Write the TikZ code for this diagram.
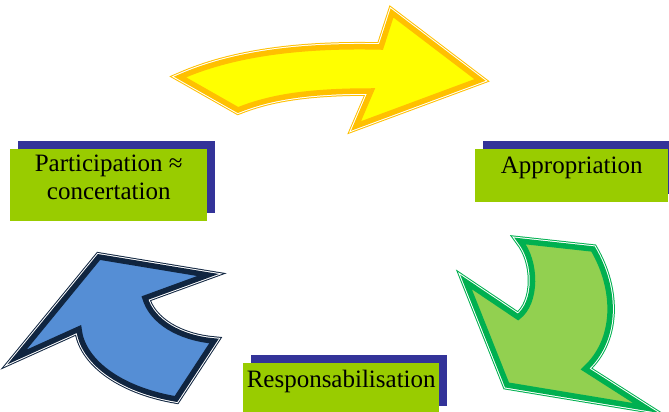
\documentclass[tikz,border=0pt]{standalone}
\definecolor{boxgreen}{RGB}{153,204,0}
\definecolor{shadowblue}{RGB}{51,51,153}
\definecolor{arrowyellow}{RGB}{255,255,0}
\definecolor{edgeorange}{RGB}{255,192,0}
\definecolor{arrowblue}{RGB}{85,142,213}
\definecolor{edgenavy}{RGB}{16,37,64}
\definecolor{arrowgreen}{RGB}{146,208,80}
\definecolor{edgegreen}{RGB}{0,176,80}
\usepackage{fontspec}
\setmainfont{Liberation Serif}
\usepackage{tikz}
\usetikzlibrary{shadows}

\begin{document}
\begin{tikzpicture}[x=1pt, y=-1pt,
    stage/.style={fill=boxgreen, inner xsep=0pt, inner ysep=5pt, anchor=north west,
      font=\fontsize{25}{28}\selectfont,
      drop shadow={shadow xshift=8pt, shadow yshift=8pt, fill=shadowblue, opacity=1}},
    bigarrow/.style 2 args={preaction={draw=#1, line width=9.5pt},
      preaction={draw=white, line width=7.5pt},
      draw=#1, fill=#2, line width=5.5pt, line join=miter}]
    \useasboundingbox (0,0) rectangle (669,412);
    % the three steps
    \node[stage, minimum width=197pt, inner ysep=0pt, align=center]
      (particip) at (10,149)
      {\rule{0pt}{22pt}Participation ≈\\concertation\rule[-22pt]{0pt}{22pt}};
    \node[stage, minimum width=193pt, text height=19pt, text depth=24pt]
      (approp) at (475,149) {Appropriation};
    \node[stage, minimum width=196pt, text height=19pt, text depth=22pt]
      (respons) at (243,363) {Responsabilisation};
    % yellow arrow, top
    \path[bigarrow={edgeorange}{arrowyellow}]
      (180,77) .. controls (232,54) and (300,45) .. (381,47) -- (392,13)
      -- (480,80) -- (356,126) -- (371,91)
      .. controls (300,91) and (266,99) .. (238,110) -- cycle;
    % green arrow, right
    \path[bigarrow={edgegreen}{arrowgreen}]
      (520,241) -- (593,249) .. controls (617,290) and (617,340) .. (585,369)
      -- (646,408) -- (507,385) -- (466,282) -- (518,317)
      .. controls (537,303) and (537,262) .. (520,241) -- cycle;
    % blue arrow, left
    \path[bigarrow={edgenavy}{arrowblue}]
      (17,357) -- (99,257) -- (208,275) -- (145,298)
      .. controls (152,322) and (180,338) .. (214,341) -- (176,399)
      .. controls (118,389) and (82,360) .. (79,329) -- cycle;
\end{tikzpicture}
\end{document}
